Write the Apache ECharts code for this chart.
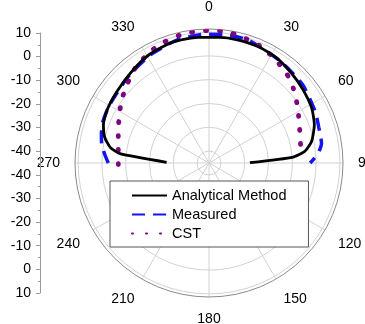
<!DOCTYPE html>
<html>
<head>
<meta charset="utf-8">
<script src="https://cdn.jsdelivr.net/npm/echarts@6/dist/echarts.min.js"></script>
<style>
html,body{margin:0;padding:0;background:#fff;}
#chart{width:365px;height:324px;}
</style>
</head>
<body>
<div id="chart"></div>
<script>
// ---- data (angle in degrees, gain in dB) ----
var angleTickLabels = ['0','30','60','90','120','150','180','210','240','270','300','330'];
var leftAxisLabels = ['10','0','-10','-20','-30','-40','-40','-30','-20','-10','0','10'];
var seriesNames = ['Analytical Method', 'Measured', 'CST'];

var analyticalAngles = [271, 276, 279, 284, 290, 298, 308, 319, 331, 343, 355, 5, 13, 23, 32, 42, 52, 62, 70, 78, 83, 86, 89.6];
var analyticalValues = [-27.2, -7.4, -3.0, 0.2, 2.2, 3.3, 4.0, 5.2, 7.0, 8.0, 8.0, 8.0, 8.1, 8.1, 7.6, 6.3, 5.1, 3.9, 2.1, -0.9, -4.4, -9.5, -27.8];

var measuredAngles = [270, 274, 280, 285, 290, 300, 317, 331, 345, 358, 7, 18, 35, 50, 64, 72, 80, 85, 90];
var measuredValues = [-2.7, -1.3, 0.8, 1.8, 2.8, 3.4, 4.7, 6.6, 8.3, 9.1, 9.3, 9.2, 7.2, 6.3, 4.6, 3.5, 3.0, 1.0, -2.5];

var cstAngles = [269, 280, 289, 298, 306, 313.5, 322, 332, 340, 347, 354, 0, 8, 14.5, 23, 31, 40.5, 48.5, 56, 64.5, 73, 82.5, 85];
var cstValues = [-6.9, -6.3, -4.7, -2.3, 0.3, 2.6, 5.5, 7.9, 9.2, 10.1, 10.5, 10.7, 10.7, 9.8, 8.7, 7.0, 4.9, 2.3, -0.4, -3.1, -5.0, -6.1, -6.3];

function pairs(angles, values) {
  return angles.map(function (a, i) { return [values[i], a]; });
}

var FONT = 'Liberation Sans, Arial, Helvetica, sans-serif';
var chart = echarts.init(document.getElementById('chart'), null, {renderer: 'canvas'});

var option = {
  backgroundColor: '#fff',
  animation: false,
  textStyle: {fontFamily: FONT},
  grid: {left: 40, top: 33, width: 10, height: 260},
  xAxis: {type: 'value', show: false, min: 0, max: 1},
  yAxis: {
    type: 'value', min: -55, max: 55, interval: 10,
    axisLine: {show: true, lineStyle: {color: '#9a9a9a', width: 1}},
    axisTick: {show: true, length: 4, lineStyle: {color: '#9a9a9a'}},
    minorTick: {show: true, splitNumber: 2, length: 2, lineStyle: {color: '#9a9a9a'}},
    splitLine: {show: false},
    axisLabel: {
      color: '#000', fontSize: 14, fontFamily: FONT, margin: 9,
      formatter: function (v, i) { return leftAxisLabels[i]; }
    }
  },
  polar: {center: [209, 163], radius: 134},
  angleAxis: {
    type: 'value', min: 0, max: 360, interval: 30,
    startAngle: 90, clockwise: true,
    axisLine: {show: true, lineStyle: {color: '#8a8a8a', width: 1}},
    axisTick: {show: false},
    splitLine: {show: true, lineStyle: {color: '#d2d2d2', width: 1}},
    axisLabel: {
      color: '#000', fontSize: 14, fontFamily: FONT, margin: 15,
      align: 'center', verticalAlign: 'middle',
      formatter: function (v) { return angleTickLabels[Math.round(v / 30) % 12]; }
    }
  },
  radiusAxis: {
    type: 'value', min: -45, max: 11.3, interval: 5,
    axisLine: {show: false}, axisTick: {show: false}, axisLabel: {show: false},
    splitLine: {show: true, lineStyle: {color: ['rgba(0,0,0,0)', '#d2d2d2'], width: 1}}
  },
  legend: {
    orient: 'vertical', left: 110, top: 181,
    padding: [7, 22, 6, 21],
    itemWidth: 35, itemHeight: 14, itemGap: 4,
    backgroundColor: '#fff', borderColor: '#555', borderWidth: 1,
    itemStyle: {opacity: 0},
    textStyle: {fontSize: 14.5, lineHeight: 15, color: '#000', fontFamily: FONT},
    data: seriesNames
  },
  series: [
    {
      name: seriesNames[0], type: 'line', coordinateSystem: 'polar',
      data: pairs(analyticalAngles, analyticalValues),
      symbol: 'none', smooth: 0.2,
      lineStyle: {color: '#000', width: 2.8}, itemStyle: {color: '#000'}, z: 3
    },
    {
      name: seriesNames[1], type: 'line', coordinateSystem: 'polar',
      data: pairs(measuredAngles, measuredValues),
      symbol: 'none', smooth: 0.2,
      lineStyle: {color: '#1414f0', width: 3.5, type: [13, 8]}, itemStyle: {color: '#1414f0'}, z: 2
    },
    {
      name: seriesNames[2], type: 'line', coordinateSystem: 'polar',
      data: pairs(cstAngles, cstValues),
      symbol: 'none', smooth: 0.2,
      lineStyle: {color: '#800080', width: 4.8, type: [1, 13], cap: 'round'}, itemStyle: {color: '#800080'}, z: 2
    }
  ]
};
chart.setOption(option);
</script>
</body>
</html>
